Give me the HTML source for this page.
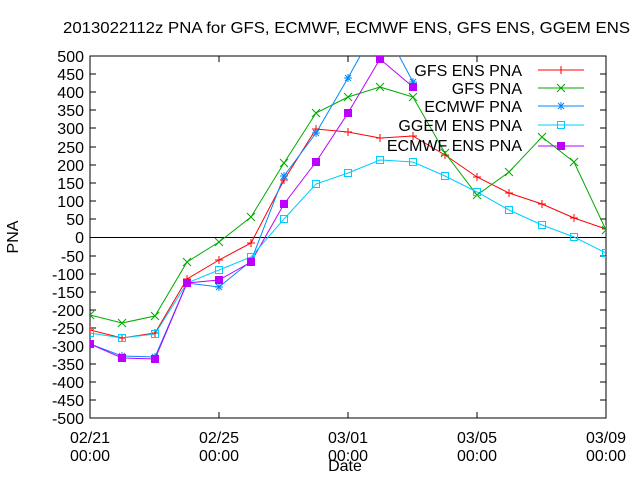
<!DOCTYPE html>
<html><head><style>body{margin:0;background:#fff}svg{display:block}text{font-family:"Liberation Sans",sans-serif;font-size:16px;fill:#000}</style></head>
<body>
<svg width="640" height="480" xmlns="http://www.w3.org/2000/svg">
<defs><clipPath id="c"><rect x="90" y="56" width="516" height="362"/></clipPath>
<g id="mp"><path d="M0 -4v8M-4 0h8" stroke="#f00" fill="none"/></g>
<g id="mx"><path d="M-4 -4l8 8M4 -4l-8 8" stroke="#0a0" fill="none"/></g>
<g id="ms"><path d="M-4 0h8M0 -4v8M-3 -3l6 6M3 -3l-6 6" stroke="#08f" fill="none"/></g>
<g id="mo"><rect x="-3.5" y="-3.5" width="7" height="7" stroke="#0cf" fill="none"/></g>
<g id="mf"><rect x="-4" y="-4" width="8" height="8" fill="#b0f"/></g>
</defs>
<rect x="90" y="56" width="516" height="362" fill="none" stroke="#000"/>
<line x1="90" y1="237.5" x2="606" y2="237.5" stroke="#000"/>
<g stroke="#000">
<path d="M90 56h6M90 74h6M90 92h6M90 110h6M90 128h6M90 147h6M90 165h6M90 183h6M90 201h6M90 219h6M90 256h6M90 274h6M90 292h6M90 310h6M90 328h6M90 346h6M90 364h6M90 382h6M90 400h6M90 418h6M606 74h-6M606 92h-6M606 110h-6M606 128h-6M606 147h-6M606 165h-6M606 183h-6M606 201h-6M606 219h-6M606 256h-6M606 274h-6M606 292h-6M606 310h-6M606 328h-6M606 346h-6M606 364h-6M606 382h-6M606 400h-6M219 418v-6M348 418v-6M477 418v-6M219 56v6M348 56v6M477 56v6"/>
</g>
<g text-anchor="end">
<text x="84" y="62">500</text><text x="84" y="80">450</text><text x="84" y="98">400</text><text x="84" y="116">350</text><text x="84" y="134">300</text><text x="84" y="153">250</text><text x="84" y="171">200</text><text x="84" y="189">150</text><text x="84" y="207">100</text><text x="84" y="225">50</text><text x="84" y="243">0</text><text x="84" y="262">-50</text><text x="84" y="280">-100</text><text x="84" y="298">-150</text><text x="84" y="316">-200</text><text x="84" y="334">-250</text><text x="84" y="352">-300</text><text x="84" y="370">-350</text><text x="84" y="388">-400</text><text x="84" y="406">-450</text><text x="84" y="424">-500</text>
</g>
<g text-anchor="middle">
<text x="90" y="443">02/21</text><text x="90" y="461">00:00</text>
<text x="219" y="443">02/25</text><text x="219" y="461">00:00</text>
<text x="348" y="443">03/01</text><text x="348" y="461">00:00</text>
<text x="477" y="443">03/05</text><text x="477" y="461">00:00</text>
<text x="606" y="443">03/09</text><text x="606" y="461">00:00</text>
<text x="345" y="471">Date</text>
<text x="18" y="237" transform="rotate(-90 18 237)">PNA</text>
</g>
<text x="63" y="33" textLength="567" lengthAdjust="spacingAndGlyphs">2013022112z PNA for GFS, ECMWF, ECMWF ENS, GFS ENS, GGEM ENS</text>
<g clip-path="url(#c)" fill="none">
<polyline stroke="#f00" points="90,330 122,338 155,333 187,279 219,260 251,243 284,180 316,129 348,132 380,138 413,136 445,155 477,177 509,193 542,204 574,218 606,229"/>
<polyline stroke="#0a0" points="90,315 122,323 155,316 187,262 219,242 251,217 284,163 316,113 348,97 380,87 413,97 445,153 477,195 509,172 542,137 574,162 606,230"/>
<polyline stroke="#08f" points="90,344 122,356 155,357 187,283 219,287 251,261 284,176 316,133 348,78 380,20 413,82"/>
<polyline stroke="#b0f" points="90,344 122,358 155,359 187,283 219,280 251,262 284,204 316,162 348,113 380,59 413,87"/>
<polyline stroke="#0cf" points="90,333 122,338 155,334 187,283 219,270 251,257 284,219 316,184 348,173 380,160 413,162 445,176 477,192 509,210 542,225 574,237 606,253"/>
<g>
<use href="#mp" x="90" y="330"/><use href="#mp" x="122" y="338"/><use href="#mp" x="155" y="333"/><use href="#mp" x="187" y="279"/><use href="#mp" x="219" y="260"/><use href="#mp" x="251" y="243"/><use href="#mp" x="284" y="180"/><use href="#mp" x="316" y="129"/><use href="#mp" x="348" y="132"/><use href="#mp" x="380" y="138"/><use href="#mp" x="413" y="136"/><use href="#mp" x="445" y="155"/><use href="#mp" x="477" y="177"/><use href="#mp" x="509" y="193"/><use href="#mp" x="542" y="204"/><use href="#mp" x="574" y="218"/><use href="#mp" x="606" y="229"/>
<use href="#mx" x="90" y="315"/><use href="#mx" x="122" y="323"/><use href="#mx" x="155" y="316"/><use href="#mx" x="187" y="262"/><use href="#mx" x="219" y="242"/><use href="#mx" x="251" y="217"/><use href="#mx" x="284" y="163"/><use href="#mx" x="316" y="113"/><use href="#mx" x="348" y="97"/><use href="#mx" x="380" y="87"/><use href="#mx" x="413" y="97"/><use href="#mx" x="445" y="153"/><use href="#mx" x="477" y="195"/><use href="#mx" x="509" y="172"/><use href="#mx" x="542" y="137"/><use href="#mx" x="574" y="162"/><use href="#mx" x="606" y="230"/>
<use href="#mo" x="90" y="333"/><use href="#mo" x="122" y="338"/><use href="#mo" x="155" y="334"/><use href="#mo" x="187" y="283"/><use href="#mo" x="219" y="270"/><use href="#mo" x="251" y="257"/><use href="#mo" x="284" y="219"/><use href="#mo" x="316" y="184"/><use href="#mo" x="348" y="173"/><use href="#mo" x="380" y="160"/><use href="#mo" x="413" y="162"/><use href="#mo" x="445" y="176"/><use href="#mo" x="477" y="192"/><use href="#mo" x="509" y="210"/><use href="#mo" x="542" y="225"/><use href="#mo" x="574" y="237"/><use href="#mo" x="606" y="253"/>
<use href="#ms" x="90" y="344"/><use href="#ms" x="122" y="356"/><use href="#ms" x="155" y="357"/><use href="#ms" x="187" y="283"/><use href="#ms" x="219" y="287"/><use href="#ms" x="251" y="261"/><use href="#ms" x="284" y="176"/><use href="#ms" x="316" y="133"/><use href="#ms" x="348" y="78"/><use href="#ms" x="413" y="82"/>
<use href="#mf" x="90" y="344"/><use href="#mf" x="122" y="358"/><use href="#mf" x="155" y="359"/><use href="#mf" x="187" y="283"/><use href="#mf" x="219" y="280"/><use href="#mf" x="251" y="262"/><use href="#mf" x="284" y="204"/><use href="#mf" x="316" y="162"/><use href="#mf" x="348" y="113"/><use href="#mf" x="380" y="59"/><use href="#mf" x="413" y="87"/>
</g>
</g>
<g text-anchor="end">
<text x="522" y="76">GFS ENS PNA</text><text x="522" y="94">GFS PNA</text><text x="522" y="112">ECMWF PNA</text><text x="522" y="131">GGEM ENS PNA</text><text x="522" y="151">ECMWF ENS PNA</text>
</g>
<g fill="none">
<path d="M538 70h46" stroke="#f00"/><path d="M538 88h46" stroke="#0a0"/><path d="M538 106h46" stroke="#08f"/><path d="M538 125h46" stroke="#0cf"/><path d="M538 146h46" stroke="#b0f"/>
<use href="#mp" x="561" y="70"/><use href="#mx" x="561" y="88"/><use href="#ms" x="561" y="106"/><use href="#mo" x="561" y="125"/><use href="#mf" x="561" y="146"/>
</g>
</svg>
</body></html>
